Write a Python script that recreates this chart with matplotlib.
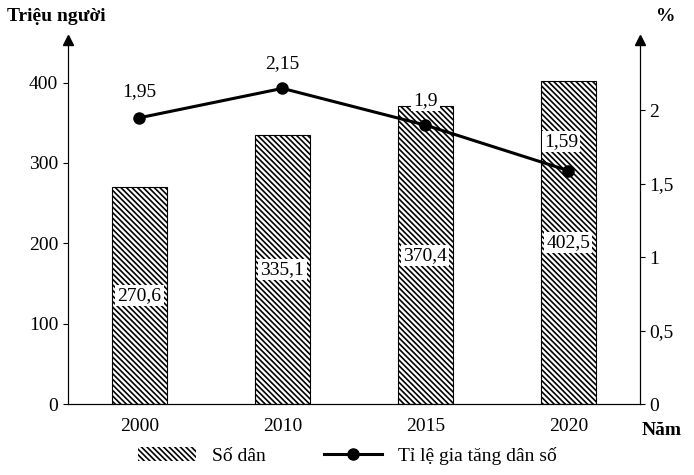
import matplotlib.pyplot as plt
from matplotlib.patches import Patch
from matplotlib.lines import Line2D

plt.rcParams['font.family'] = ['Liberation Serif', 'DejaVu Serif']
plt.rcParams['hatch.linewidth'] = 1.2

years = ['2000', '2010', '2015', '2020']
population = [270.6, 335.1, 370.4, 402.5]
growth = [1.95, 2.15, 1.9, 1.59]
pop_labels = ['270,6', '335,1', '370,4', '402,5']
growth_labels = ['1,95', '2,15', '1,9', '1,59']

fig = plt.figure(figsize=(6.94, 4.75), dpi=100)
ax = fig.add_axes([0.098, 0.149, 0.824, 0.767])
ax2 = ax.twinx()

x = list(range(len(years)))
ax.bar(x, population, width=0.39, color='white', edgecolor='black',
       hatch='\\\\\\\\\\\\', linewidth=0.8)
for xi, v, lab in zip(x, population, pop_labels):
    ax.text(xi, v * 0.5, lab, ha='center', va='center', fontsize=14,
            bbox=dict(facecolor='white', edgecolor='none', pad=1.5))

ax.set_xlim(-0.5, 3.5)
ax.set_ylim(0, 453)
ax.set_yticks([0, 100, 200, 300, 400])
ax.set_xticks(x)
ax.set_xticklabels(years)
ax2.set_ylim(0, 2.48)
ax2.set_yticks([0, 0.5, 1, 1.5, 2])
ax2.set_yticklabels(['0', '0,5', '1', '1,5', '2'])

ax2.plot(x, growth, color='black', linewidth=2.2, marker='o', markersize=8)
offsets = [(0, 0.18), (0, 0.17), (0, 0.17), (-0.05, 0.2)]
for xi, v, lab, (dx, dy) in zip(x, growth, growth_labels, offsets):
    ax2.text(xi + dx, v + dy, lab, ha='center', va='center', fontsize=14,
             bbox=dict(facecolor='white', edgecolor='none', pad=1.5))

for a in (ax, ax2):
    a.spines['top'].set_visible(False)
    a.tick_params(labelsize=14, direction='out')
ax.tick_params(axis='x', length=0, pad=10)

# arrow heads on the y axes
ax.plot(0, 1.0, '^k', markersize=7, transform=ax.transAxes, clip_on=False)
ax.plot(1, 1.0, '^k', markersize=7, transform=ax.transAxes, clip_on=False)

fig.text(0.01, 0.955, 'Triệu người', fontsize=14, fontweight='bold')
fig.text(0.945, 0.955, '%', fontsize=14, fontweight='bold')
fig.text(0.925, 0.085, 'Năm', fontsize=14, fontweight='bold')

handles = [Patch(facecolor='white', edgecolor='black', hatch='\\\\\\\\\\\\', linewidth=0),
           Line2D([0], [0], color='black', linewidth=2.2, marker='o', markersize=8)]
fig.legend(handles, ['Số dân', 'Tỉ lệ gia tăng dân số'], loc='lower center',
           bbox_to_anchor=(0.5, -0.015), ncol=2, frameon=False, fontsize=14,
           handlelength=3, columnspacing=3)

fig.savefig('out.png', dpi=100)
